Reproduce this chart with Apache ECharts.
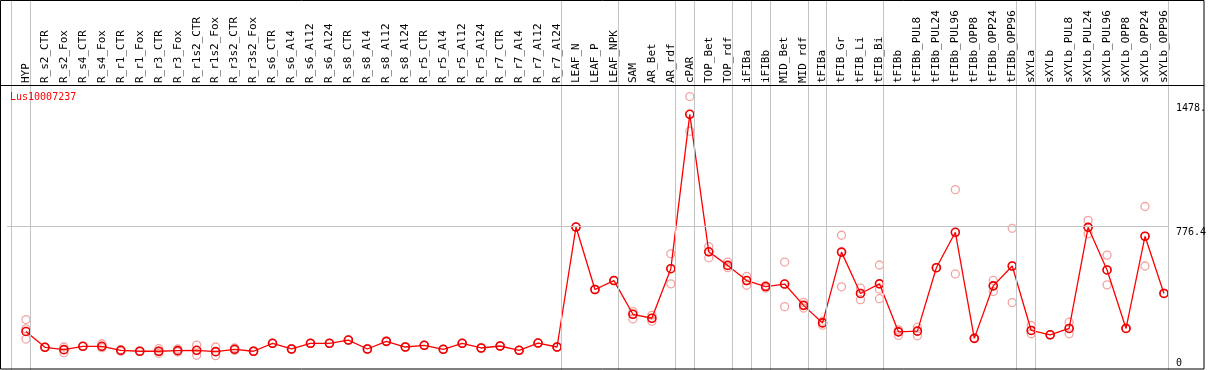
<!DOCTYPE html>
<html>
<head>
<meta charset="utf-8">
<script src="https://cdn.jsdelivr.net/npm/echarts@6/dist/echarts.min.js"></script>
<style>
html,body{margin:0;padding:0;background:#fff;}
#c{width:1209px;height:370px;}
</style>
</head>
<body>
<div id="c"></div>
<script>
const chartTitle = 'Lus10007237';
const categories = ['HYP','R_s2_CTR','R_s2_Fox','R_s4_CTR','R_s4_Fox','R_r1_CTR','R_r1_Fox','R_r3_CTR','R_r3_Fox','R_r1s2_CTR','R_r1s2_Fox','R_r3s2_CTR','R_r3s2_Fox','R_s6_CTR','R_s6_Al4','R_s6_Al12','R_s6_Al24','R_s8_CTR','R_s8_Al4','R_s8_Al12','R_s8_Al24','R_r5_CTR','R_r5_Al4','R_r5_Al12','R_r5_Al24','R_r7_CTR','R_r7_Al4','R_r7_Al12','R_r7_Al24','LEAF_N','LEAF_P','LEAF_NPK','SAM','AR_Bet','AR_rdf','cPAR','TOP_Bet','TOP_rdf','iFIBa','iFIBb','MID_Bet','MID_rdf','tFIBa','tFIB_Gr','tFIB_Li','tFIB_Bi','tFIBb','tFIBb_PUL8','tFIBb_PUL24','tFIBb_PUL96','tFIBb_OPP8','tFIBb_OPP24','tFIBb_OPP96','sXYLa','sXYLb','sXYLb_PUL8','sXYLb_PUL24','sXYLb_PUL96','sXYLb_OPP8','sXYLb_OPP24','sXYLb_OPP96'];
const meanValues = [208.5,122.7,109.9,128.1,128.1,106.6,101.3,101.3,104.5,106.6,
  99.1,112.0,101.3,144.2,113.6,144.2,144.2,161.8,113.6,154.9,
  124.3,133.4,112.0,144.2,119.0,129.7,106.6,145.8,124.3,772.8,
  435.2,483.4,301.2,279.7,547.7,1382.1,638.8,565.4,483.4,451.2,
  464.6,349.4,254.6,637.2,413.7,465.7,206.3,210.1,553.0,744.4,
  171.0,455.0,562.2,213.8,190.2,224.5,771.2,540.7,224.5,722.9,413.7];
const rep1 = [272.8,122.7,124.3,128.1,142.0,109.9,101.3,115.2,113.6,135.0,
  124.3,119.0,101.3,144.2,113.6,144.2,144.2,161.8,113.6,154.9,
  124.3,133.4,112.0,144.2,119.0,129.7,106.6,145.8,124.3,772.8,
  435.2,483.4,315.6,295.8,628.1,1478,667.2,583.6,506.4,456.6,
  583.6,365.5,263.7,728.3,442.1,567.5,217.0,231.5,553.0,974.8,
  171.0,485.0,765.8,240.6,190.2,258.3,808.7,621.1,224.5,883.7,413.7];
const rep2 = [167.2,122.7,93.8,128.1,120.6,101.3,101.3,90.6,97.5,79.8,
  77.7,106.6,101.3,144.2,113.6,144.2,144.2,161.8,113.6,154.9,
  124.3,133.4,112.0,144.2,119.0,129.7,106.6,145.8,124.3,772.8,
  435.2,483.4,276.0,263.7,465.7,1291.0,606.6,553.0,458.2,443.2,
  342.4,334.9,242.2,449.6,380.0,385.3,187.0,184.9,553.0,519.3,
  171.0,424.4,364.4,195.6,190.2,195.6,736.9,460.3,224.5,562.2,413.7];
const rep3 = [222.4,122.7,109.9,128.1,128.1,106.6,101.3,101.3,104.5,106.6,
  99.1,112.0,101.3,144.2,113.6,144.2,144.2,161.8,113.6,154.9,
  124.3,133.4,112.0,144.2,119.0,129.7,106.6,145.8,124.3,772.8,
  435.2,483.4,301.2,279.7,547.7,1382.1,638.8,565.4,483.4,451.2,
  464.6,349.4,254.6,637.2,413.7,436.8,206.3,210.1,553.0,744.4,
  171.0,455.0,562.2,213.8,190.2,224.5,771.2,540.7,224.5,722.9,413.7];
const groupEnds = [-1,0,28,31,34,35,37,38,39,41,42,45,52,53,60];
const yTickValues = [0, 776.4, 1478];
const yTickTexts = ['0', '776.4', '1478.'];
const refValue = 776.4;

const mono = '"DejaVu Sans Mono", "Liberation Mono", monospace';
const chart = echarts.init(document.getElementById('c'), null, {renderer: 'canvas'});

const meanData = meanValues.map((v, i) => [i, v]);
const repData = [];
[rep1, rep2, rep3].forEach(arr => arr.forEach((v, i) => repData.push([i, v])));
const sepLines = groupEnds.map(g => ({xAxis: g + 0.22}));
const richKey = ['b', 'm', 't'];

chart.setOption({
  animation: false,
  backgroundColor: '#fff',
  title: {
    text: chartTitle, left: 10, top: 92, padding: 0,
    textStyle: {color: '#ff0000', fontSize: 10, fontWeight: 'normal', fontFamily: mono}
  },
  grid: {left: 7, right: 5, top: 0, bottom: -3.2, containLabel: false},
  xAxis: {
    type: 'value', min: -1, max: 62, interval: 1,
    position: 'top', offset: -85,
    axisLine: {show: false}, axisTick: {show: false}, splitLine: {show: false},
    axisLabel: {
      rotate: 90, margin: 2, color: '#000', fontSize: 11, fontFamily: mono,
      showMinLabel: true, showMaxLabel: true,
      formatter: v => (Number.isInteger(v) && v >= 0 && v < categories.length) ? categories[v] : ''
    }
  },
  yAxis: {
    type: 'value', min: 0, max: 2000, position: 'right', offset: -26,
    axisLine: {show: false}, axisTick: {show: false}, splitLine: {show: false},
    axisLabel: {
      customValues: yTickValues, margin: 0, color: '#000', fontSize: 10, fontFamily: mono,
      formatter: v => {
        const k = yTickValues.indexOf(v);
        return k < 0 ? '' : '{' + richKey[k] + '|' + yTickTexts[k] + '}';
      },
      rich: {
        b: {padding: [0, 0, 13.6, 0], fontSize: 10, fontFamily: mono, color: '#000'},
        m: {padding: [12.5, 0, 0, 0], fontSize: 10, fontFamily: mono, color: '#000'},
        t: {padding: [24.4, 0, 0, 0], fontSize: 10, fontFamily: mono, color: '#000'}
      }
    }
  },
  graphic: [
    {type: 'rect', silent: true, z: 100, shape: {x: 0.5, y: 0.5, width: 1203.5, height: 368.5},
      style: {fill: 'none', stroke: '#000', lineWidth: 1}},
    {type: 'line', silent: true, z: 100, shape: {x1: 0, y1: 85.5, x2: 1204, y2: 85.5},
      style: {stroke: '#000', lineWidth: 1}}
  ],
  series: [
    {
      type: 'line', name: 'sep', data: [], silent: true, z: 1,
      markLine: {
        silent: true, symbol: ['none', 'none'], animation: false,
        label: {show: false},
        lineStyle: {color: '#c4c4c4', width: 1, type: 'solid'},
        emphasis: {disabled: true},
        data: sepLines.concat([[{coord: [-1, refValue]}, {coord: [60.2, refValue]}]])
      }
    },
    {
      type: 'scatter', name: 'replicates', data: repData, z: 2, silent: true,
      symbol: 'circle', symbolSize: 8,
      itemStyle: {color: 'rgba(0,0,0,0)', borderColor: '#f08c8c', borderWidth: 1.3}
    },
    {
      type: 'line', name: 'mean', data: meanData, z: 3, silent: true,
      symbol: 'circle', symbolSize: 8, showAllSymbol: true,
      lineStyle: {color: '#ff0000', width: 1.3},
      itemStyle: {color: 'rgba(0,0,0,0)', borderColor: '#ee0000', borderWidth: 1.6}
    }
  ]
});
</script>
</body>
</html>
